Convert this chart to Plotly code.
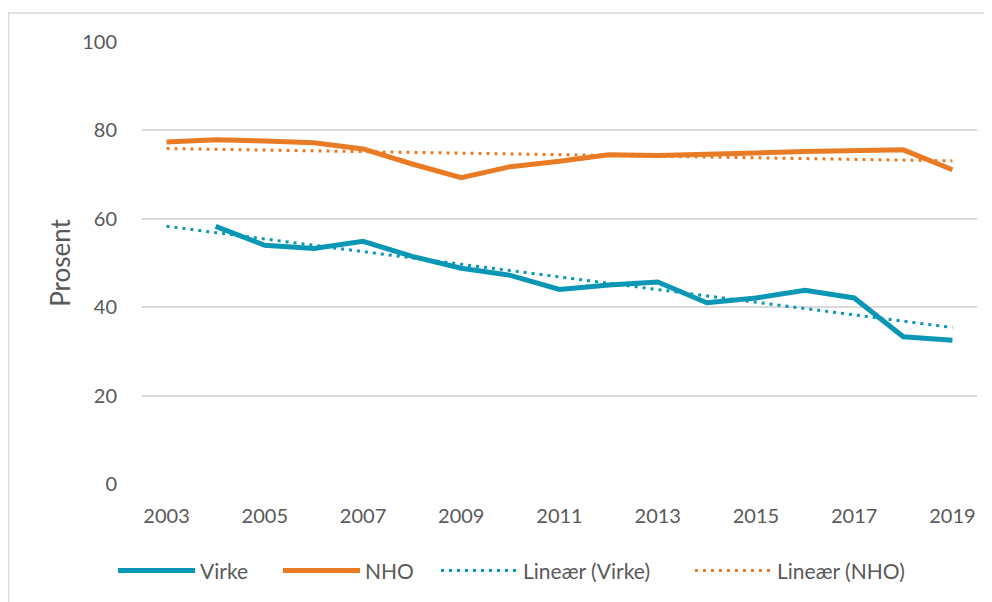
import plotly.graph_objects as go

years = list(range(2003, 2020))
virke_years = list(range(2004, 2020))
virke = [58.3, 54.0, 53.3, 54.9, 51.5, 48.8, 47.2, 44.0, 45.0, 45.7, 41.0, 42.1, 43.8, 42.1, 33.3, 32.5]
nho = [77.4, 77.9, 77.6, 77.2, 75.8, 72.4, 69.3, 71.8, 73.0, 74.5, 74.3, 74.7, 74.9, 75.2, 75.4, 75.6, 71.1]
trend_years = [2003, 2019]
virke_trend = [58.3, 35.4]
nho_trend = [75.9, 73.1]
x_ticks = list(range(2003, 2020, 2))
y_ticks = [0, 20, 40, 60, 80, 100]

teal = "#0997b5"
orange = "#ea7b25"
txt = "#595959"
grid = "#d9d9d9"
font = "Lato"

fig = go.Figure()
fig.add_trace(go.Scatter(x=virke_years, y=virke, name="Virke", mode="lines",
                         line=dict(color=teal, width=5), legend="legend"))
fig.add_trace(go.Scatter(x=years, y=nho, name="NHO", mode="lines",
                         line=dict(color=orange, width=5), legend="legend2"))
fig.add_trace(go.Scatter(x=trend_years, y=virke_trend, name="Lineær (Virke)", mode="lines",
                         line=dict(color=teal, width=3, dash="3px,5px"), legend="legend3"))
fig.add_trace(go.Scatter(x=trend_years, y=nho_trend, name="Lineær (NHO)", mode="lines",
                         line=dict(color=orange, width=3, dash="3px,5px"), legend="legend4"))

def leg(xpos):
    return dict(orientation="h", x=xpos, xanchor="left", y=-0.194, yanchor="middle",
                font=dict(size=21, color=txt, family=font), itemwidth=77,
                bgcolor="rgba(0,0,0,0)")

fig.update_layout(
    width=984, height=594,
    margin=dict(l=134, r=15, t=34, b=117),
    paper_bgcolor="white", plot_bgcolor="white",
    font=dict(family=font, size=20, color=txt),
    showlegend=True,
    legend=leg(-0.0347),
    legend2=leg(0.1629),
    legend3=leg(0.3521),
    legend4=leg(0.6563),
    shapes=[dict(type="rect", xref="paper", yref="paper",
                 x0=-0.1599, x1=1.2, y0=-0.5, y1=1.0655,
                 line=dict(color=grid, width=1.5), layer="below")],
)
fig.update_xaxes(range=[2002.5, 2019.5], tickvals=x_ticks, showgrid=False, zeroline=False,
                 showline=False, ticks="", ticklabelstandoff=18, tickfont=dict(size=20, color=txt))
fig.update_yaxes(range=[0, 100], tickvals=y_ticks, showgrid=True, gridcolor=grid, gridwidth=1.5,
                 zeroline=False, showline=False, ticks="", ticklabelstandoff=24,
                 tickfont=dict(size=20, color=txt),
                 title=dict(text="Prosent", font=dict(size=26, color=txt), standoff=4))

fig.write_html("out.html")
